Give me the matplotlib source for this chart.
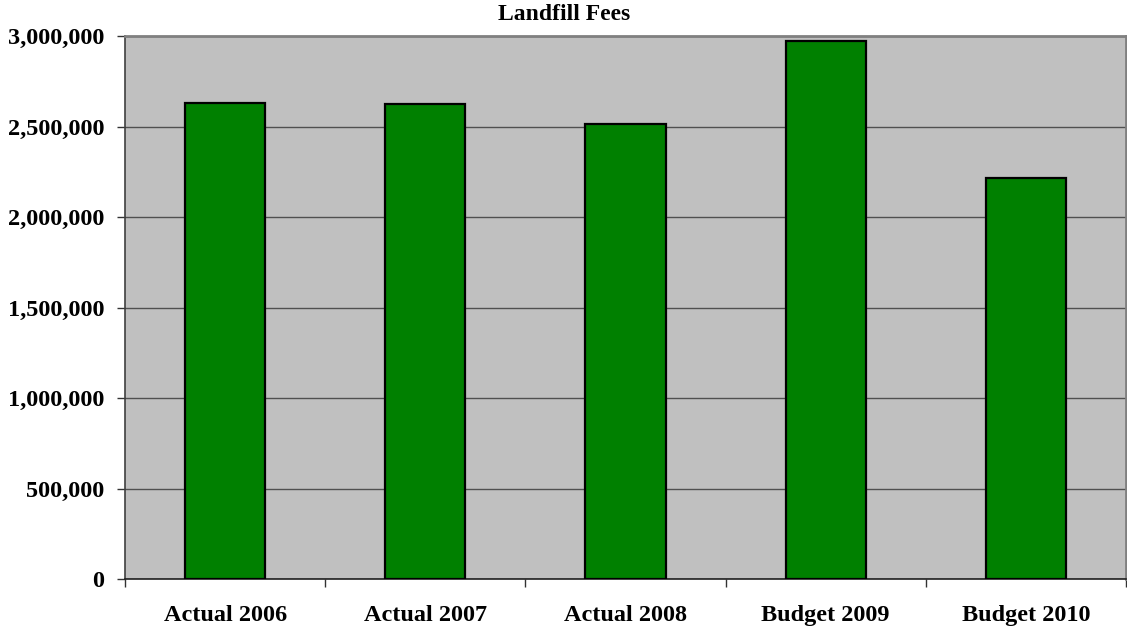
import matplotlib
matplotlib.use("Agg")
import matplotlib.pyplot as plt
from matplotlib.ticker import FuncFormatter, FixedLocator

categories = ["Actual 2006", "Actual 2007", "Actual 2008", "Budget 2009", "Budget 2010"]
values = [2628000, 2622000, 2512000, 2970000, 2217000]
yticks = [0, 500000, 1000000, 1500000, 2000000, 2500000, 3000000]

plt.rcParams['font.family'] = ['Liberation Serif', 'DejaVu Serif']

fig = plt.figure(figsize=(11.27, 6.33), dpi=100)
ax = fig.add_axes([125/1127, 1-579/633, (1126-125)/1127, (579-36)/633])
ax.set_facecolor('#C0C0C0')

x = list(range(len(categories)))
ax.bar(x, values, width=0.4, color='#008000', edgecolor='black', linewidth=1.6, zorder=3)

ax.set_xlim(-0.5, len(categories)-0.5)
ax.set_ylim(0, 3000000)
ax.set_yticks(yticks)
ax.yaxis.set_major_formatter(FuncFormatter(lambda v, p: f"{int(v):,}"))
ax.yaxis.grid(True, color='#505050', linewidth=1.0, zorder=1)
ax.set_axisbelow(True)

# category labels at centers, ticks at boundaries
ax.set_xticks(x)
ax.set_xticklabels(categories, fontsize=17.5, fontweight='bold')
ax.tick_params(axis='x', which='major', length=0, pad=19)
ax.xaxis.set_minor_locator(FixedLocator([i - 0.5 for i in range(len(categories)+1)]))
ax.tick_params(axis='x', which='minor', length=6, width=1, color='#333333')
ax.tick_params(axis='y', length=6, width=1, color='#333333', labelsize=17.5, pad=9)
for lab in ax.get_yticklabels():
    lab.set_fontweight('bold')

for s in ['top', 'right']:
    ax.spines[s].set_color('#808080')
    ax.spines[s].set_linewidth(2)
ax.spines['left'].set_color('#404040')
ax.spines['left'].set_linewidth(1.2)
ax.spines['bottom'].set_color('#202020')
ax.spines['bottom'].set_linewidth(1.2)

fig.text(0.5005, 1-15/633, "Landfill Fees", ha='center', va='center', fontsize=17, fontweight='bold')

fig.savefig("out.png", dpi=100)
